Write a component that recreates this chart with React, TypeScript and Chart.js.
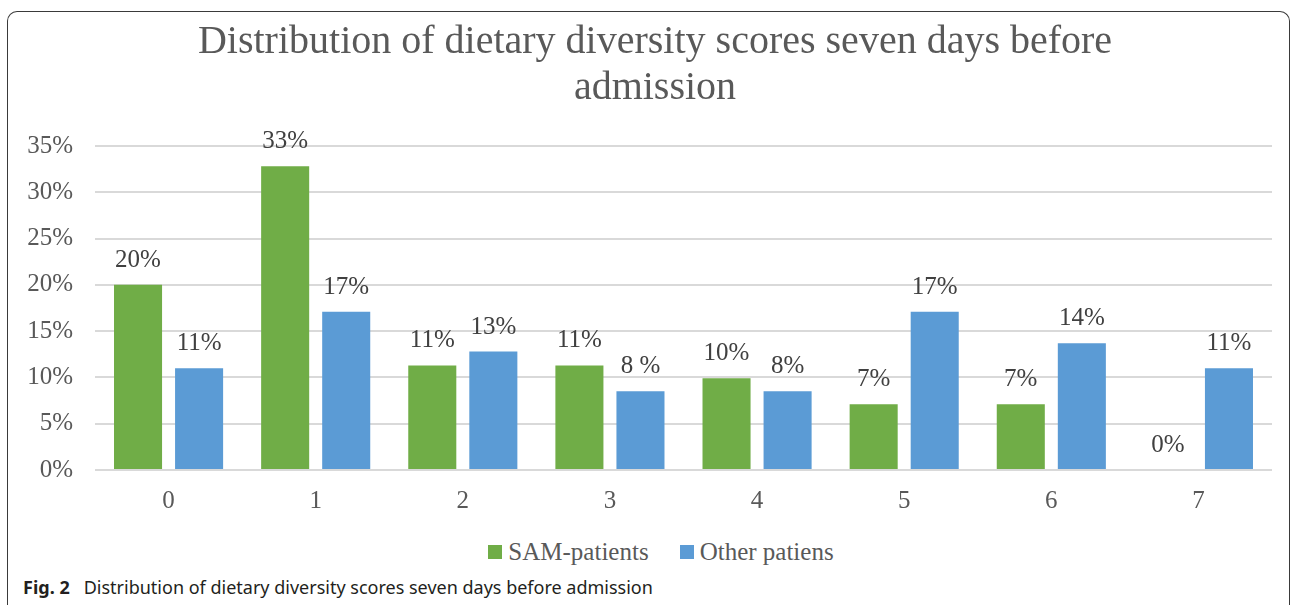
import React, { useEffect, useRef } from "react";
import { Chart, registerables } from "chart.js";

Chart.register(...registerables);

const titleLines = ["Distribution of dietary diversity scores seven days before", "admission"];
const categories = ["0", "1", "2", "3", "4", "5", "6", "7"];
const seriesNames = ["SAM-patients", "Other patiens"];
const samValues = [20.0, 32.8, 11.3, 11.3, 9.9, 7.1, 7.1, 0];
const otherValues = [11.0, 17.1, 12.8, 8.5, 8.5, 17.1, 13.7, 11.0];
const samLabels = ["20%", "33%", "11%", "11%", "10%", "7%", "7%", "0%"];
const otherLabels = ["11%", "17%", "13%", "8 %", "8%", "17%", "14%", "11%"];
const yMax = 35;
const yStep = 5;
const captionBold = "Fig. 2";
const captionText = "Distribution of dietary diversity scores seven days before admission";

const GREEN = "#70ad47";
const BLUE = "#5b9bd5";
const SERIF = "'Liberation Serif', 'Times New Roman', serif";

const dataLabelPlugin = {
  id: "dataLabels",
  afterLayout(chart: any) {
    // let the y tick labels extend into the left padding (no clipping)
    if (chart.scales.y) chart.scales.y.left = 0;
  },
  afterDatasetsDraw(chart: any) {
    const ctx = chart.ctx;
    ctx.save();
    ctx.font = `25px ${SERIF}`;
    ctx.fillStyle = "#404040";
    ctx.textAlign = "center";
    ctx.textBaseline = "alphabetic";
    chart.data.datasets.forEach((ds: any, i: number) => {
      const meta = chart.getDatasetMeta(i);
      meta.data.forEach((el: any, j: number) => {
        ctx.fillText(ds.valueLabels[j], el.x, el.y - 18);
      });
    });
    ctx.restore();
  },
};

export default function App() {
  const ref = useRef<HTMLCanvasElement | null>(null);

  useEffect(() => {
    if (!ref.current) return;
    const chart = new Chart(ref.current, {
      type: "bar",
      data: {
        labels: categories,
        datasets: [
          {
            label: seriesNames[0],
            data: samValues,
            backgroundColor: GREEN,
            valueLabels: samLabels,
          } as any,
          {
            label: seriesNames[1],
            data: otherValues,
            backgroundColor: BLUE,
            valueLabels: otherLabels,
          } as any,
        ],
      },
      options: {
        responsive: false,
        animation: false,
        devicePixelRatio: 1,
        categoryPercentage: 0.83,
        barPercentage: 0.787,
        layout: { padding: { left: 38, right: 20, top: 0, bottom: 6 } },
        plugins: {
          legend: { display: false },
          tooltip: { enabled: false },
          title: {
            display: true,
            text: titleLines,
            color: "#595959",
            font: { family: SERIF, size: 40, weight: "normal", lineHeight: 1.15 },
            padding: { top: 19, bottom: 35 },
          },
        },
        scales: {
          x: {
            grid: { display: false },
            border: { display: false },
            ticks: {
              color: "#595959",
              font: { family: SERIF, size: 25 },
              padding: 8,
            },
          },
          y: {
            min: 0,
            max: yMax,
            afterFit: (scale: any) => {
              scale.width = 57;
            },
            grid: { color: "#d9d9d9", lineWidth: 2, drawTicks: false },
            border: { display: false },
            ticks: {
              stepSize: yStep,
              color: "#595959",
              font: { family: SERIF, size: 25 },
              padding: 22,
              callback: (v: any) => `${v}%`,
            },
          },
        },
      },
      plugins: [dataLabelPlugin],
    });
    return () => chart.destroy();
  }, []);

  return (
    <div style={{ position: "absolute", left: 0, top: 0, width: 1292, height: 605, overflow: "hidden", background: "#fff" }}>
      <div
        style={{
          position: "absolute",
          left: 7,
          top: 11,
          width: 1281,
          height: 600,
          border: "1.5px solid #3a3a3a",
          borderBottom: "none",
          borderRadius: "10px 10px 0 0",
        }}
      />
      <canvas ref={ref} width={1292} height={530} style={{ position: "absolute", left: 0, top: 0 }} />
      <div
        style={{
          position: "absolute",
          left: 0,
          top: 538,
          width: 1292,
          display: "flex",
          justifyContent: "center",
          alignItems: "center",
          fontFamily: SERIF,
          fontSize: 25,
          color: "#595959",
          paddingLeft: 30,
          boxSizing: "border-box",
        }}
      >
        {seriesNames.map((n, i) => (
          <div key={n} style={{ display: "flex", alignItems: "center", marginLeft: i ? 31 : 0 }}>
            <span style={{ width: 14, height: 14, background: i ? BLUE : GREEN, display: "inline-block", marginRight: 6 }} />
            <span>{n}</span>
          </div>
        ))}
      </div>
      <div
        style={{
          position: "absolute",
          left: 23,
          top: 575,
          fontFamily: "'Noto Sans', sans-serif",
          fontSize: 18,
          color: "#231f20",
          whiteSpace: "nowrap",
        }}
      >
        <b>{captionBold}</b>
        <span style={{ marginLeft: 14 }}>{captionText}</span>
      </div>
    </div>
  );
}
